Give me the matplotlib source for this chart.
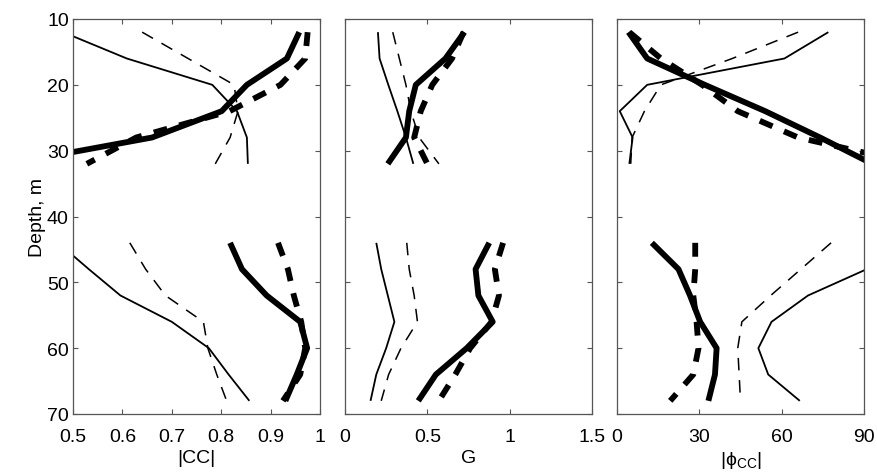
import numpy as np
import matplotlib
matplotlib.use("Agg")
import matplotlib.pyplot as plt

plt.rcParams['font.family'] = ['Liberation Sans', 'DejaVu Sans']
plt.rcParams['mathtext.fontset'] = 'custom'
plt.rcParams['mathtext.rm'] = 'Liberation Sans'
plt.rcParams['mathtext.it'] = 'Liberation Sans:italic'
plt.rcParams['lines.scale_dashes'] = False

# depth levels of the two instrument groups (m)
depth_top = [12, 16, 20, 24, 28, 32]
depth_bot = [44, 48, 52, 56, 60, 64, 68]

# |CC| profiles: first 6 values at depth_top, remaining 7 at depth_bot
cc_thin = [0.48, 0.609, 0.782, 0.832, 0.852, 0.854,
           0.47, 0.532, 0.596, 0.70, 0.775, 0.815, 0.857]
cc_thin_dash = [0.64, 0.733, 0.826, 0.834, 0.818, 0.788,
                0.615, 0.647, 0.687, 0.764, 0.773, 0.791, 0.811]
cc_thick = [0.958, 0.933, 0.852, 0.801, 0.66, 0.37,
            0.818, 0.842, 0.892, 0.960, 0.974, 0.953, 0.930]
cc_thick_dash = [0.975, 0.970, 0.920, 0.817, 0.628, 0.528,
                 0.915, 0.935, 0.947, 0.962, 0.970, 0.960, 0.925]

# gain G
g_thin = [0.20, 0.21, 0.263, 0.318, 0.37, 0.415,
          0.19, 0.22, 0.26, 0.30, 0.25, 0.19, 0.155]
g_thin_dash = [0.29, 0.33, 0.37, 0.40, 0.45, 0.57,
               0.375, 0.39, 0.42, 0.44, 0.34, 0.265, 0.22]
g_thick = [0.725, 0.61, 0.43, 0.39, 0.37, 0.26,
           0.876, 0.793, 0.81, 0.897, 0.739, 0.552, 0.445]
g_thick_dash = [0.72, 0.65, 0.53, 0.46, 0.42, 0.50,
                0.96, 0.91, 0.935, 0.89, 0.76, 0.67, 0.57]

# phase |phi_CC| (degrees)
ph_thin = [77, 61, 11, 1, 5.7, 4.5,
           105, 91, 69.6, 56.3, 51.5, 55.1, 66.6]
ph_thin_dash = [66, 42, 16, 10, 5.5, 5,
                78, 67, 56, 45.5, 44, 44.5, 45]
ph_thick = [4.2, 11, 32, 54, 74, 93,
            12.7, 22.4, 26.6, 30.3, 36.3, 35.7, 33.3]
ph_thick_dash = [4.5, 16, 31, 44, 66, 108,
                 28.5, 28.5, 27.8, 29, 29.7, 27.8, 19.4]

styles = [
    dict(lw=1.3, ls='-'),
    dict(lw=1.1, ls=(0, (9, 7))),
    dict(lw=4.2, ls='-'),
    dict(lw=4.2, ls=(0, (10, 9))),
]

panels = [
    ([cc_thin, cc_thin_dash, cc_thick, cc_thick_dash], (0.5, 1.0),
     [0.5, 0.6, 0.7, 0.8, 0.9, 1.0], ['0.5', '0.6', '0.7', '0.8', '0.9', '1'], '|CC|'),
    ([g_thin, g_thin_dash, g_thick, g_thick_dash], (0, 1.5),
     [0, 0.5, 1, 1.5], ['0', '0.5', '1', '1.5'], 'G'),
    ([ph_thin, ph_thin_dash, ph_thick, ph_thick_dash], (0, 90),
     [0, 30, 60, 90], ['0', '30', '60', '90'], r'|$\mathrm{\phi}_{\mathrm{CC}}$|'),
]

fig = plt.figure(figsize=(8.78, 4.77), dpi=100)
lefts = [73, 345, 617]
W, H = 878.0, 477.0

nt = len(depth_top)
for i, (series, xlim, xt, xtl, xlab) in enumerate(panels):
    ax = fig.add_axes([lefts[i] / W, (H - 415) / H, 247 / W, 395 / H])
    for vals, st in zip(series, styles):
        ax.plot(vals[:nt], depth_top, color='black', solid_capstyle='butt',
                dash_capstyle='butt', **st)
        ax.plot(vals[nt:], depth_bot, color='black', solid_capstyle='butt',
                dash_capstyle='butt', **st)
    ax.set_xlim(*xlim)
    ax.set_ylim(70, 10)
    ax.set_xticks(xt)
    ax.set_xticklabels(xtl)
    ax.set_yticks(np.arange(10, 71, 10))
    ax.tick_params(direction='in', top=True, right=True, length=3.5,
                   width=0.8, color='#555555', labelsize=14, pad=10)
    ax.tick_params(axis='y', pad=3)
    for sp in ax.spines.values():
        sp.set_color('#555555')
        sp.set_linewidth(0.9)
    ax.set_xlabel(xlab, fontsize=14, labelpad=3)
    if i == 0:
        ax.set_ylabel('Depth, m', fontsize=14, labelpad=1)
    else:
        ax.set_yticklabels([])

fig.savefig('out.png', dpi=100)
